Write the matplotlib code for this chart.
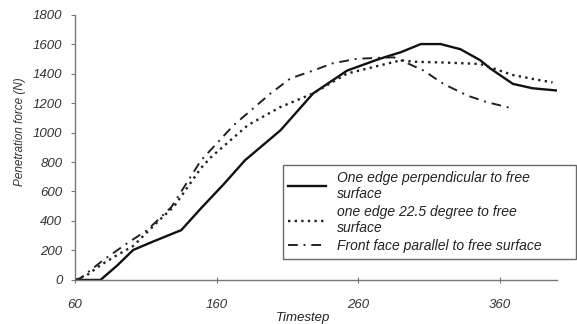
import matplotlib
matplotlib.use("Agg")
import matplotlib.pyplot as plt

plt.rcParams['font.family'] = ['Liberation Sans', 'DejaVu Sans']

# Data
t_perp = [60, 78, 90, 101, 115, 135, 149, 165, 180, 205, 228, 252, 275, 290, 304, 318, 332, 346, 353, 369, 383, 400]
v_perp = [0, 0, 100, 203, 260, 338, 487, 650, 812, 1015, 1265, 1420, 1500, 1545, 1600, 1600, 1565, 1490, 1435, 1330, 1300, 1285]

t_225 = [60, 68, 78, 90, 101, 120, 130, 149, 156, 182, 205, 228, 252, 275, 290, 299, 320, 346, 369, 385, 397]
v_225 = [0, 30, 100, 170, 230, 410, 500, 760, 833, 1050, 1173, 1265, 1400, 1455, 1490, 1480, 1475, 1465, 1390, 1360, 1340]

t_par = [60, 64, 80, 97, 111, 128, 149, 172, 198, 212, 228, 242, 259, 275, 285, 290, 306, 320, 337, 351, 366]
v_par = [0, 13, 135, 250, 338, 494, 812, 1050, 1265, 1367, 1420, 1470, 1500, 1507, 1510, 1490, 1420, 1330, 1250, 1205, 1170]

labels = ["One edge perpendicular to free\nsurface",
          "one edge 22.5 degree to free\nsurface",
          "Front face parallel to free surface"]
x_ticks = [60, 160, 260, 360]
y_ticks = list(range(0, 1801, 200))

fig = plt.figure(figsize=(5.77, 3.24), dpi=100)
ax = fig.add_axes([0.130, 0.136, 0.835, 0.819])

ax.plot(t_perp, v_perp, color='#111111', lw=1.7, ls='-', label=labels[0])
ax.plot(t_225, v_225, color='#222222', lw=1.7, ls=(0, (1, 1.8)), label=labels[1])
ax.plot(t_par, v_par, color='#222222', lw=1.4, ls=(0, (5, 3, 1, 3)), label=labels[2])

ax.set_xlim(60, 400)
ax.set_ylim(0, 1800)
ax.set_xticks(x_ticks)
ax.set_yticks(y_ticks)
for s in ['top', 'right']:
    ax.spines[s].set_visible(False)
for s in ['left', 'bottom']:
    ax.spines[s].set_color('#777777')
    ax.spines[s].set_linewidth(1.0)
ax.tick_params(axis='y', direction='out', length=3, color='#777777', labelsize=9.5,
               labelcolor='#333333', pad=6)
ax.tick_params(axis='x', direction='inout', length=4, color='#777777', labelsize=9.5,
               labelcolor='#333333', pad=12)
for lab in ax.get_xticklabels() + ax.get_yticklabels():
    lab.set_style('italic')

ax.set_xlabel('Timestep', style='italic', fontsize=9.5, color='#222222')
ax.xaxis.set_label_coords(0.473, -0.12)
ax.set_ylabel('Penetration force (N)', style='italic', fontsize=8.5, color='#333333')
ax.yaxis.set_label_coords(-0.102, 0.56)

leg = ax.legend(loc='upper left', bbox_to_anchor=(0.4315, 0.011, 0.608, 0.422),
                mode='expand', handlelength=2.7, frameon=True,
                fancybox=False, borderaxespad=0, labelspacing=0.3,
                prop={'style': 'italic', 'size': 10})
leg.get_frame().set_edgecolor('#444444')
leg.get_frame().set_linewidth(1.0)
for txt in leg.get_texts():
    txt.set_color('#222222')

fig.savefig('out.png', dpi=100)
